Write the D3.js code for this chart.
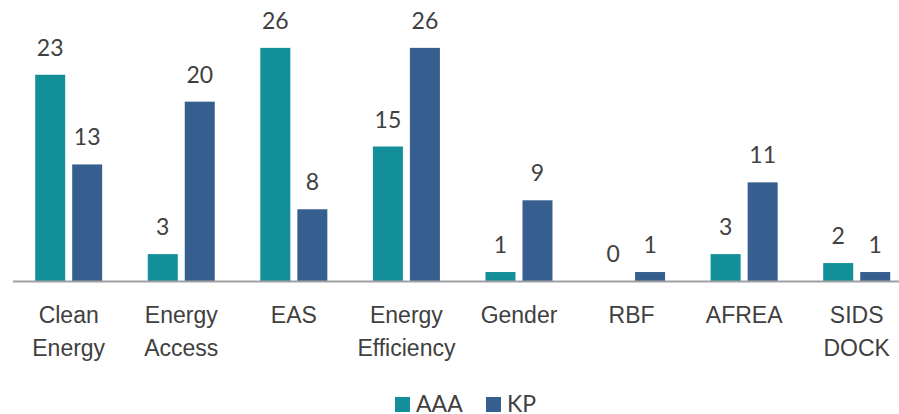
<!DOCTYPE html>
<html>
<head>
<meta charset="utf-8">
<script src="https://cdn.jsdelivr.net/npm/d3@7"></script>
<style>
  html, body { margin: 0; padding: 0; background: #ffffff; }
  svg { display: block; font-family: Lato, "Open Sans", sans-serif; }
</style>
</head>
<body>
<svg id="chart" width="899" height="414"></svg>
<script>
// Programme names (two-line labels split on "|")
const categories = ["Clean|Energy", "Energy|Access", "EAS", "Energy|Efficiency", "Gender", "RBF", "AFREA", "SIDS|DOCK"];
const seriesNames = ["AAA", "KP"];
const aaaValues = [23, 3, 26, 15, 1, 0, 3, 2];
const kpValues  = [13, 20, 8, 26, 9, 1, 11, 1];
const seriesColors = ["#138f99", "#365f8f"];

const svg = d3.select("#chart");
const W = 899;

const rows = categories.map((c, i) => ({ cat: c, values: [aaaValues[i], kpValues[i]] }));

const x = d3.scaleBand().domain(categories).range([12.4, 913]).padding(0);
const xSub = d3.scaleBand().domain(seriesNames).range([0, x.bandwidth()])
  .paddingInner(7 / 37).paddingOuter(0.616);
const y = d3.scaleLinear().domain([0, 30]).range([281, 12]);

// Bars
const groups = svg.append("g").selectAll("g").data(rows).join("g")
  .attr("transform", d => `translate(${x(d.cat)},0)`);

groups.selectAll("rect").data(d => d.values.map((v, k) => ({ v, k })))
  .join("rect")
  .attr("x", d => xSub(seriesNames[d.k]))
  .attr("y", d => y(d.v))
  .attr("width", xSub.bandwidth())
  .attr("height", d => y(0) - y(d.v))
  .attr("fill", d => seriesColors[d.k]);

// Value labels
groups.selectAll("text.val").data(d => d.values.map((v, k) => ({ v, k })))
  .join("text")
  .attr("class", "val")
  .attr("x", d => xSub(seriesNames[d.k]) + xSub.bandwidth() / 2)
  .attr("y", d => y(d.v) - 19)
  .attr("text-anchor", "middle")
  .attr("font-size", 23)
  .attr("fill", "#404040")
  .text(d => d.v);

// Category axis
const axis = svg.append("g")
  .attr("transform", `translate(0,${y(0)})`)
  .call(d3.axisBottom(x).tickSize(0).tickPadding(0).tickFormat(""));
axis.select(".domain").attr("stroke", "#a0a0a0").attr("stroke-width", 2);
axis.selectAll(".tick text").remove();

axis.selectAll(".tick").append("text")
  .attr("text-anchor", "middle")
  .attr("font-size", 23)
  .attr("fill", "#404040")
  .each(function (d) {
    const lines = d.split("|");
    const t = d3.select(this);
    lines.forEach((ln, i) => {
      t.append("tspan").attr("x", 0).attr("y", 42 + i * 33).text(ln);
    });
  });

// Legend
const legend = svg.append("g");
const legendX = [395, 486];
seriesNames.forEach((name, i) => {
  legend.append("rect")
    .attr("x", legendX[i]).attr("y", 397)
    .attr("width", 15).attr("height", 15)
    .attr("fill", seriesColors[i]);
  legend.append("text")
    .attr("x", legendX[i] + 21).attr("y", 412)
    .attr("font-size", 23)
    .attr("fill", "#404040")
    .text(name);
});
</script>
</body>
</html>
